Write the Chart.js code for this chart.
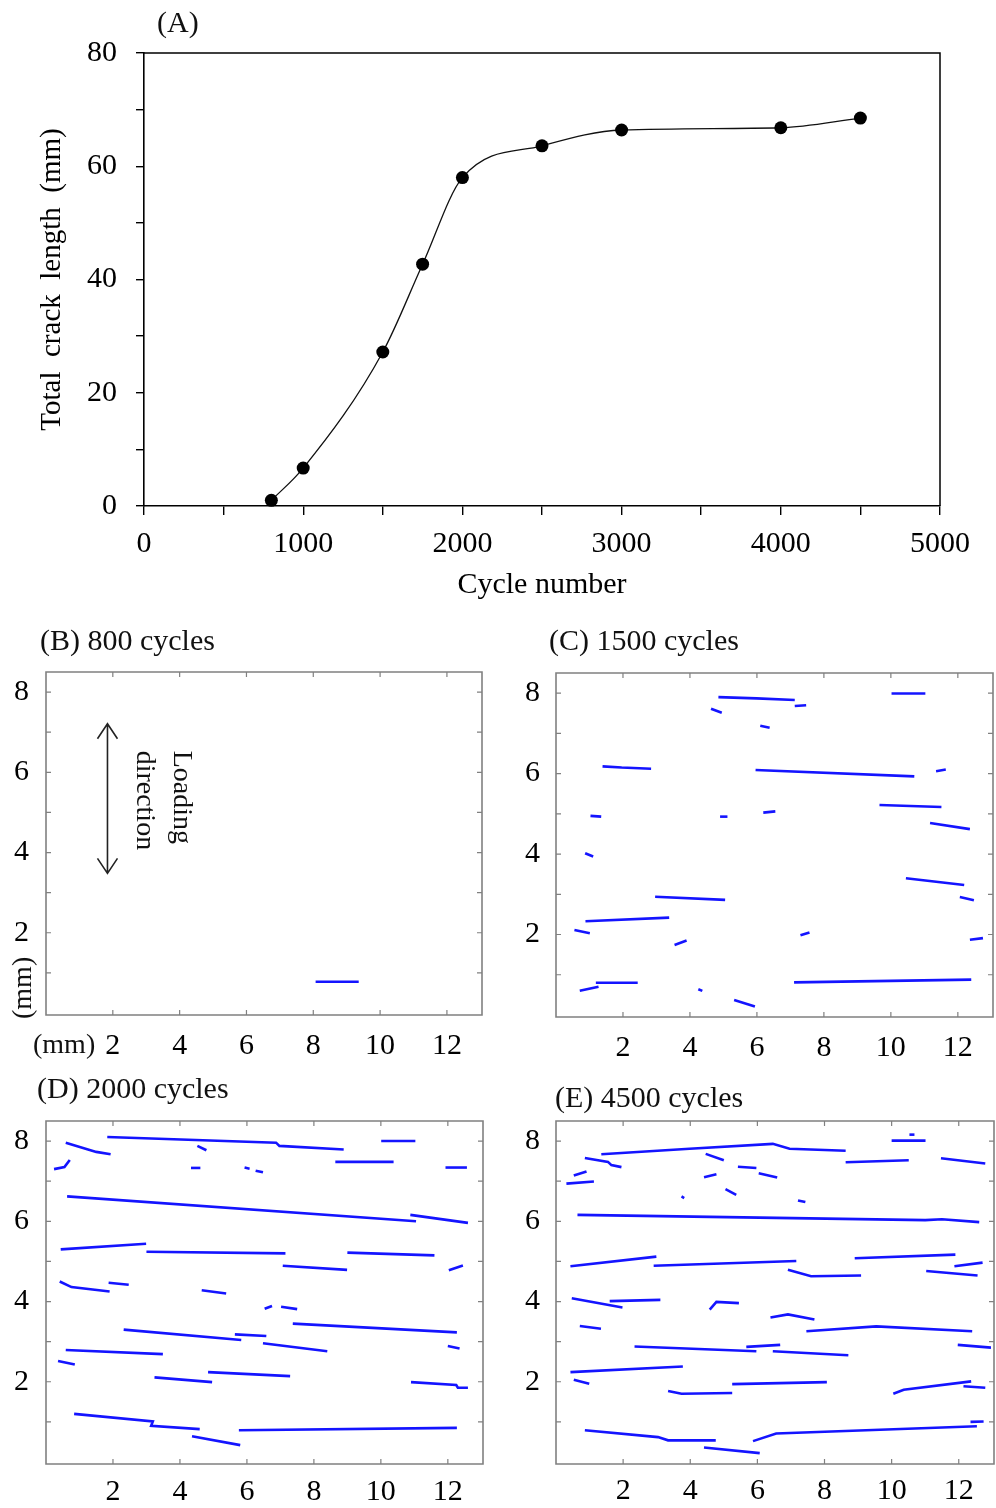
<!DOCTYPE html>
<html>
<head>
<meta charset="utf-8">
<script src="https://cdn.jsdelivr.net/npm/chart.js@4.4.1/dist/chart.umd.min.js"></script>
<style>
  html, body { margin: 0; padding: 0; background: #fff; }
  body { position: relative; width: 996px; height: 1508px; overflow: hidden;
         font-family: "Liberation Serif", "Times New Roman", serif; color: #000; }
  canvas { position: absolute; }
  .txt { position: absolute; font-size: 30px; line-height: 30px; white-space: pre; color: #111; }
</style>
</head>
<body>
<canvas id="panelA" width="996" height="615" style="left:0;top:0"></canvas>
<canvas id="panelB" width="500" height="440" style="left:0;top:630px"></canvas>
<canvas id="panelC" width="486" height="440" style="left:510px;top:630px"></canvas>
<canvas id="panelD" width="500" height="430" style="left:0;top:1078px"></canvas>
<canvas id="panelE" width="486" height="430" style="left:510px;top:1078px"></canvas>

<div class="txt" style="left:157px;top:7px">(A)</div>
<div class="txt" style="left:40px;top:625px">(B) 800 cycles</div>
<div class="txt" style="left:549px;top:625px">(C) 1500 cycles</div>
<div class="txt" style="left:37px;top:1073px">(D) 2000 cycles</div>
<div class="txt" style="left:555px;top:1082px">(E) 4500 cycles</div>
<div class="txt" style="left:33px;top:1029px;font-size:28px">(mm)</div>
<div class="txt" style="left:-8px;top:974px;width:60px;text-align:center;font-size:28px;transform:rotate(-90deg)">(mm)</div>

<script>
// ---- Panel A: total crack length vs. cycle number ----
const cycleNumbers     = [800, 1000, 1500, 1750, 2000, 2500, 3000, 4000, 4500];
const totalCrackLength = [1.0, 6.7, 27.2, 42.7, 58.0, 63.6, 66.4, 66.8, 68.5];
const cycleTicks  = [0, 500, 1000, 1500, 2000, 2500, 3000, 3500, 4000, 4500, 5000];
const lengthTicks = [0, 10, 20, 30, 40, 50, 60, 70, 80];

// ---- Panels B-E: crack traces, each crack a polyline of [x mm, y mm] ----
const mmTicksX = [2, 4, 6, 8, 10, 12];
const mmTicksY = [1, 2, 3, 4, 5, 6, 7, 8];

const cracks800 = [
  [[8.07, 0.78], [9.36, 0.78]]
];

const cracks1500 = [
  [[4.85, 7.90], [5.99, 7.87], [7.13, 7.83]],
  [[7.13, 7.68], [7.47, 7.70]],
  [[10.02, 7.99], [11.03, 7.99]],
  [[4.63, 7.61], [4.95, 7.51]],
  [[6.10, 7.19], [6.38, 7.14]],
  [[1.39, 6.18], [1.96, 6.15], [2.84, 6.12]],
  [[5.96, 6.09], [10.70, 5.93]],
  [[11.35, 6.06], [11.64, 6.10]],
  [[9.66, 5.22], [11.51, 5.17]],
  [[11.17, 4.77], [12.36, 4.62]],
  [[1.03, 4.95], [1.35, 4.93]],
  [[4.90, 4.93], [5.12, 4.93]],
  [[6.19, 5.03], [6.55, 5.06]],
  [[0.87, 4.02], [1.11, 3.94]],
  [[10.45, 3.40], [12.19, 3.23]],
  [[12.06, 2.93], [12.48, 2.85]],
  [[2.96, 2.94], [5.05, 2.86]],
  [[0.88, 2.33], [3.38, 2.42]],
  [[0.55, 2.11], [1.01, 2.03]],
  [[3.54, 1.74], [3.90, 1.85]],
  [[7.30, 1.98], [7.57, 2.05]],
  [[12.36, 1.87], [12.75, 1.91]],
  [[7.11, 0.81], [12.40, 0.88]],
  [[1.19, 0.80], [2.44, 0.80]],
  [[0.71, 0.60], [1.27, 0.70]],
  [[4.25, 0.64], [4.37, 0.60]],
  [[5.32, 0.37], [5.94, 0.21]]
];

const cracks2000 = [
  [[1.83, 8.10], [6.87, 7.96], [6.97, 7.88], [8.89, 7.79]],
  [[0.59, 7.96], [1.50, 7.73], [1.93, 7.67]],
  [[10.01, 8.00], [11.03, 8.00]],
  [[4.52, 7.88], [4.79, 7.77]],
  [[0.24, 7.30], [0.55, 7.35], [0.71, 7.53]],
  [[4.33, 7.33], [4.61, 7.33]],
  [[5.93, 7.34], [6.08, 7.31]],
  [[6.26, 7.26], [6.48, 7.22]],
  [[8.64, 7.48], [10.38, 7.48]],
  [[11.93, 7.34], [12.57, 7.34]],
  [[0.63, 6.62], [11.05, 6.00]],
  [[10.88, 6.16], [12.60, 5.96]],
  [[0.44, 5.30], [2.99, 5.44]],
  [[3.00, 5.24], [7.15, 5.20]],
  [[9.00, 5.22], [11.60, 5.15]],
  [[7.07, 4.89], [8.99, 4.79]],
  [[12.03, 4.78], [12.45, 4.90]],
  [[0.41, 4.50], [0.76, 4.36], [1.90, 4.25]],
  [[1.87, 4.47], [2.47, 4.42]],
  [[4.65, 4.28], [5.38, 4.20]],
  [[6.53, 3.82], [6.75, 3.89]],
  [[7.02, 3.87], [7.50, 3.81]],
  [[7.37, 3.45], [12.27, 3.23]],
  [[2.32, 3.30], [5.83, 3.04]],
  [[5.64, 3.18], [6.58, 3.14]],
  [[6.48, 2.96], [8.40, 2.76]],
  [[0.59, 2.79], [3.49, 2.69]],
  [[0.36, 2.52], [0.86, 2.43]],
  [[12.00, 2.89], [12.35, 2.83]],
  [[3.24, 2.11], [4.96, 1.99]],
  [[4.84, 2.24], [7.29, 2.14]],
  [[10.90, 1.99], [12.25, 1.92], [12.30, 1.85], [12.60, 1.85]],
  [[0.84, 1.20], [3.19, 1.01], [3.14, 0.90], [4.59, 0.82]],
  [[4.36, 0.64], [5.80, 0.42]],
  [[5.76, 0.79], [12.27, 0.85]]
];

const cracks4500 = [
  [[1.35, 7.67], [3.98, 7.81], [6.46, 7.93], [6.96, 7.81], [8.63, 7.76]],
  [[0.86, 7.58], [1.55, 7.48], [1.65, 7.40], [1.95, 7.35]],
  [[10.00, 8.01], [11.01, 8.01]],
  [[10.53, 8.16], [10.68, 8.16]],
  [[8.63, 7.47], [10.51, 7.52]],
  [[11.47, 7.57], [12.79, 7.44]],
  [[4.46, 7.68], [5.00, 7.52]],
  [[5.42, 7.36], [5.97, 7.33]],
  [[6.04, 7.20], [6.59, 7.09]],
  [[0.53, 7.14], [0.91, 7.24]],
  [[0.31, 6.94], [1.13, 6.99]],
  [[4.41, 7.10], [4.78, 7.17]],
  [[5.05, 6.80], [5.37, 6.66]],
  [[3.74, 6.62], [3.82, 6.58]],
  [[7.21, 6.52], [7.43, 6.48]],
  [[0.64, 6.16], [11.00, 6.03], [11.50, 6.05], [12.61, 5.98]],
  [[0.43, 4.88], [2.99, 5.12]],
  [[2.91, 4.89], [7.16, 5.01]],
  [[8.90, 5.08], [11.90, 5.17]],
  [[11.87, 4.88], [12.71, 4.97]],
  [[6.91, 4.79], [7.60, 4.63], [9.09, 4.65]],
  [[11.03, 4.76], [12.56, 4.65]],
  [[0.47, 4.08], [1.98, 3.85]],
  [[1.60, 4.01], [3.11, 4.04]],
  [[4.58, 3.80], [4.78, 3.99], [5.45, 3.96]],
  [[6.39, 3.60], [6.91, 3.68], [7.70, 3.55]],
  [[0.71, 3.39], [1.34, 3.32]],
  [[7.46, 3.26], [9.54, 3.38], [12.40, 3.26]],
  [[2.34, 2.88], [5.97, 2.76]],
  [[5.67, 2.87], [6.68, 2.92]],
  [[6.46, 2.76], [8.71, 2.66]],
  [[11.97, 2.92], [12.96, 2.85]],
  [[0.43, 2.24], [3.78, 2.38]],
  [[0.53, 2.05], [0.99, 1.95]],
  [[3.34, 1.77], [3.74, 1.70], [5.25, 1.72]],
  [[5.25, 1.94], [8.07, 1.99]],
  [[10.05, 1.70], [10.36, 1.80], [12.37, 2.01]],
  [[12.14, 1.89], [12.79, 1.85]],
  [[12.35, 1.00], [12.74, 1.01]],
  [[0.86, 0.79], [3.04, 0.62], [3.34, 0.54], [4.76, 0.54]],
  [[4.41, 0.36], [6.07, 0.22]],
  [[5.87, 0.52], [6.56, 0.71], [12.54, 0.89]]
];

const SERIF = '"Liberation Serif", "Times New Roman", serif';
Chart.defaults.font.family = SERIF;
Chart.defaults.color = '#000';
Chart.defaults.animation = false;

// Frame around the plot area; optional inward tick marks on all four sides.
const boxFrame = {
  id: 'boxFrame',
  afterDraw(chart, args, o) {
    const { ctx, chartArea: a, scales } = chart;
    ctx.save();
    ctx.strokeStyle = o.color;
    ctx.lineWidth = o.width;
    ctx.beginPath();
    if (o.full) {
      ctx.rect(a.left, a.top, a.right - a.left, a.bottom - a.top);
    } else {
      ctx.moveTo(a.left, a.top); ctx.lineTo(a.right, a.top); ctx.lineTo(a.right, a.bottom);
    }
    ctx.stroke();
    if (o.inward) {
      const L = o.tickLen;
      ctx.lineWidth = o.tickWidth;
      ctx.beginPath();
      o.xTicks.forEach(v => {
        const p = scales.x.getPixelForValue(v);
        ctx.moveTo(p, a.bottom); ctx.lineTo(p, a.bottom - L);
        ctx.moveTo(p, a.top); ctx.lineTo(p, a.top + L);
      });
      o.yTicks.forEach(v => {
        const p = scales.y.getPixelForValue(v);
        ctx.moveTo(a.left, p); ctx.lineTo(a.left + L, p);
        ctx.moveTo(a.right, p); ctx.lineTo(a.right - L, p);
      });
      ctx.stroke();
    }
    ctx.restore();
  }
};

// Double-headed arrow with the "Loading direction" note (panel B).
const loadingArrow = {
  id: 'loadingArrow',
  afterDatasetsDraw(chart, args, o) {
    if (!o || !o.show) return;
    const { ctx, scales: { x, y } } = chart;
    const ax = x.getPixelForValue(o.arrowX);
    const yt = y.getPixelForValue(o.arrowTop);
    const yb = y.getPixelForValue(o.arrowBottom);
    ctx.save();
    ctx.strokeStyle = '#222';
    ctx.lineWidth = 1.6;
    ctx.beginPath();
    ctx.moveTo(ax, yt); ctx.lineTo(ax, yb);
    ctx.moveTo(ax - 10, yt + 15); ctx.lineTo(ax, yt); ctx.lineTo(ax + 10, yt + 15);
    ctx.moveTo(ax - 10, yb - 15); ctx.lineTo(ax, yb); ctx.lineTo(ax + 10, yb - 15);
    ctx.stroke();
    ctx.fillStyle = '#111';
    ctx.font = '28px ' + SERIF;
    ctx.textAlign = 'left';
    ctx.textBaseline = 'middle';
    o.lines.forEach(l => {
      ctx.save();
      ctx.translate(x.getPixelForValue(l.x), y.getPixelForValue(o.textStart));
      ctx.rotate(Math.PI / 2);
      ctx.fillText(l.text, 0, 0);
      ctx.restore();
    });
    ctx.restore();
  }
};

// Panel A
new Chart(document.getElementById('panelA'), {
  type: 'line',
  data: {
    datasets: [{
      data: cycleNumbers.map((c, i) => ({ x: c, y: totalCrackLength[i] })),
      borderColor: '#111',
      borderWidth: 1.3,
      cubicInterpolationMode: 'monotone',
      pointRadius: 6.5,
      pointBackgroundColor: '#000',
      pointBorderWidth: 0,
      clip: false
    }]
  },
  options: {
    responsive: false,
    layout: { padding: { top: 53, right: 56, left: 0, bottom: 0 } },
    plugins: {
      legend: { display: false },
      tooltip: { enabled: false },
      boxFrame: { color: '#000', width: 1.5, full: false }
    },
    scales: {
      x: {
        type: 'linear', min: 0, max: 5000,
        afterBuildTicks: s => { s.ticks = cycleTicks.map(v => ({ value: v })); },
        afterFit: s => { s.height = 109; },
        ticks: { font: { size: 30 }, padding: 11, maxRotation: 0, autoSkip: false,
                 callback: v => (v % 1000 === 0 ? String(v) : '') },
        grid: { drawOnChartArea: false, drawTicks: true, tickLength: 9, color: '#000', lineWidth: 1.4 },
        border: { color: '#000', width: 1.6 },
        title: { display: true, text: 'Cycle number', font: { size: 30 }, padding: { top: 0, bottom: 12 } }
      },
      y: {
        type: 'linear', min: 0, max: 80,
        afterBuildTicks: s => { s.ticks = lengthTicks.map(v => ({ value: v })); },
        afterFit: s => { s.width = 144; },
        ticks: { font: { size: 30 }, padding: 19, autoSkip: false,
                 callback: v => (v % 20 === 0 ? String(v) : '') },
        grid: { drawOnChartArea: false, drawTicks: true, tickLength: 8, color: '#000', lineWidth: 1.4 },
        border: { color: '#000', width: 1.6 },
        title: { display: true, text: 'Total  crack  length  (mm)', font: { size: 29 }, padding: { top: 35, bottom: 0 } }
      }
    }
  },
  plugins: [boxFrame]
});

// Panels B-E
function crackPanel(id, cracks, layout, extra) {
  const datasets = cracks.map(seg => ({
    data: seg.map(p => ({ x: p[0], y: p[1] })),
    showLine: true,
    borderColor: '#1414ff',
    borderWidth: 2.6,
    borderCapStyle: 'butt',
    pointRadius: 0,
    tension: 0
  }));
  return new Chart(document.getElementById(id), {
    type: 'scatter',
    data: { datasets },
    options: {
      responsive: false,
      layout: { padding: { top: layout.top, right: layout.right, left: 0, bottom: 0 } },
      plugins: {
        legend: { display: false },
        tooltip: { enabled: false },
        boxFrame: { color: '#808080', width: 1.6, full: true, inward: true,
                    tickLen: 5, tickWidth: 1.2, xTicks: mmTicksX, yTicks: mmTicksY },
        loadingArrow: extra || { show: false }
      },
      scales: {
        x: {
          type: 'linear', min: 0, max: 13.05,
          afterBuildTicks: s => { s.ticks = mmTicksX.map(v => ({ value: v })); },
          afterFit: s => { s.height = layout.xh; },
          ticks: { font: { size: 30 }, padding: layout.xpad, maxRotation: 0, autoSkip: false },
          grid: { display: false, drawTicks: false },
          border: { display: false }
        },
        y: {
          type: 'linear', min: -0.05, max: 8.5,
          afterBuildTicks: s => { s.ticks = mmTicksY.map(v => ({ value: v })); },
          afterFit: s => { s.width = 46; },
          ticks: { font: { size: 30 }, padding: layout.ypad, autoSkip: false,
                   callback: v => (v % 2 === 0 ? String(v) : '') },
          grid: { display: false, drawTicks: false },
          border: { display: false }
        }
      }
    },
    plugins: [boxFrame, loadingArrow]
  });
}

crackPanel('panelB', cracks800, { top: 42, right: 18, xh: 55, xpad: 13, ypad: 17 }, {
  show: true, arrowX: 1.84, arrowTop: 7.21, arrowBottom: 3.48, textStart: 6.54,
  lines: [{ text: 'Loading', x: 4.06 }, { text: 'direction', x: 2.95 }]
});
crackPanel('panelC', cracks1500, { top: 43, right: 3, xh: 53, xpad: 13, ypad: 16 });
crackPanel('panelD', cracks2000, { top: 43, right: 17, xh: 44, xpad: 10, ypad: 17 });
crackPanel('panelE', cracks4500, { top: 43, right: 2, xh: 44, xpad: 9, ypad: 16 });
</script>
</body>
</html>
